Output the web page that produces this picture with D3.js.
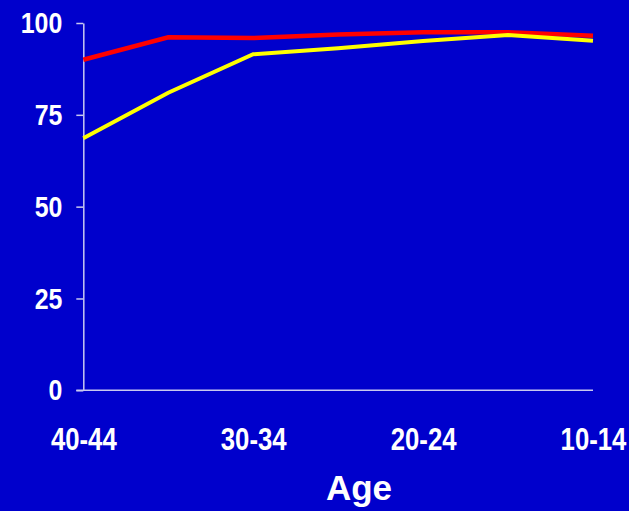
<!DOCTYPE html>
<html>
<head>
<meta charset="utf-8">
<script src="https://cdn.jsdelivr.net/npm/d3@7"></script>
<style>
  html, body { margin: 0; padding: 0; background: #0000CC; }
  svg { display: block; }
</style>
</head>
<body>
<svg id="chart" width="629" height="511"></svg>
<script>
// Age groups, oldest to youngest
const ageGroups = ["40-44", "35-39", "30-34", "25-29", "20-24", "15-19", "10-14"];
const labelledAges = ["40-44", "30-34", "20-24", "10-14"];
// Percent values per age group
const redSeries = [90.0, 96.1, 95.9, 96.9, 97.5, 97.5, 96.5];
const yellowSeries = [68.6, 81.0, 91.5, 93.1, 95.1, 96.7, 95.2];
const yTicks = [0, 25, 50, 75, 100];

const svg = d3.select("#chart");
const W = 629, H = 511;

svg.append("rect").attr("width", W).attr("height", H).attr("fill", "#0000CC");

const x = d3.scalePoint().domain(ageGroups).range([83.3, 593]);
const y = d3.scaleLinear().domain([0, 100]).range([390.3, 23]);

const axisColor = "#c8c8f0";
const font = "'Liberation Sans', Arial, sans-serif";
const condense = 0.83; // horizontal squeeze for the condensed tick lettering

// Y axis
const yAxis = svg.append("g")
  .attr("transform", `translate(${x(ageGroups[0])},0)`)
  .call(d3.axisLeft(y).tickValues(yTicks).tickSize(7).tickSizeOuter(0).tickPadding(14));
yAxis.select(".domain").attr("stroke", axisColor).attr("stroke-width", 1.5);
yAxis.selectAll(".tick line").attr("stroke", axisColor).attr("stroke-width", 1.5);
yAxis.selectAll(".tick text")
  .attr("fill", "#ffffff")
  .attr("font-family", font)
  .attr("font-weight", "bold")
  .attr("font-size", 30)
  .attr("x", -21 / condense)
  .attr("transform", `scale(${condense},1)`);

// X axis baseline (extends left like a tick)
svg.append("line")
  .attr("x1", x(ageGroups[0]) - 7).attr("x2", x(ageGroups[ageGroups.length - 1]))
  .attr("y1", y(0)).attr("y2", y(0))
  .attr("stroke", axisColor).attr("stroke-width", 1.5);

// X tick labels
const xAxis = svg.append("g")
  .attr("transform", `translate(0,${y(0)})`)
  .call(d3.axisBottom(x).tickValues(labelledAges).tickSize(0).tickPadding(0));
xAxis.select(".domain").remove();
xAxis.selectAll(".tick text")
  .attr("fill", "#ffffff")
  .attr("font-family", font)
  .attr("font-weight", "bold")
  .attr("font-size", 31)
  .attr("dy", null)
  .attr("y", 59.7)
  .attr("transform", `scale(${condense},1)`);

// Axis title
svg.append("text")
  .attr("x", 359).attr("y", 500)
  .attr("text-anchor", "middle")
  .attr("fill", "#ffffff")
  .attr("font-family", font)
  .attr("font-weight", "bold")
  .attr("font-size", 35)
  .text("Age");

const line = d3.line()
  .x((d, i) => x(ageGroups[i]))
  .y(d => y(d));

svg.append("path")
  .datum(redSeries)
  .attr("d", line)
  .attr("fill", "none")
  .attr("stroke", "#ff0000")
  .attr("stroke-width", 4.5)
  .attr("stroke-linejoin", "miter");

svg.append("path")
  .datum(yellowSeries)
  .attr("d", line)
  .attr("fill", "none")
  .attr("stroke", "#ffff00")
  .attr("stroke-width", 4)
  .attr("stroke-linejoin", "miter");
</script>
</body>
</html>
